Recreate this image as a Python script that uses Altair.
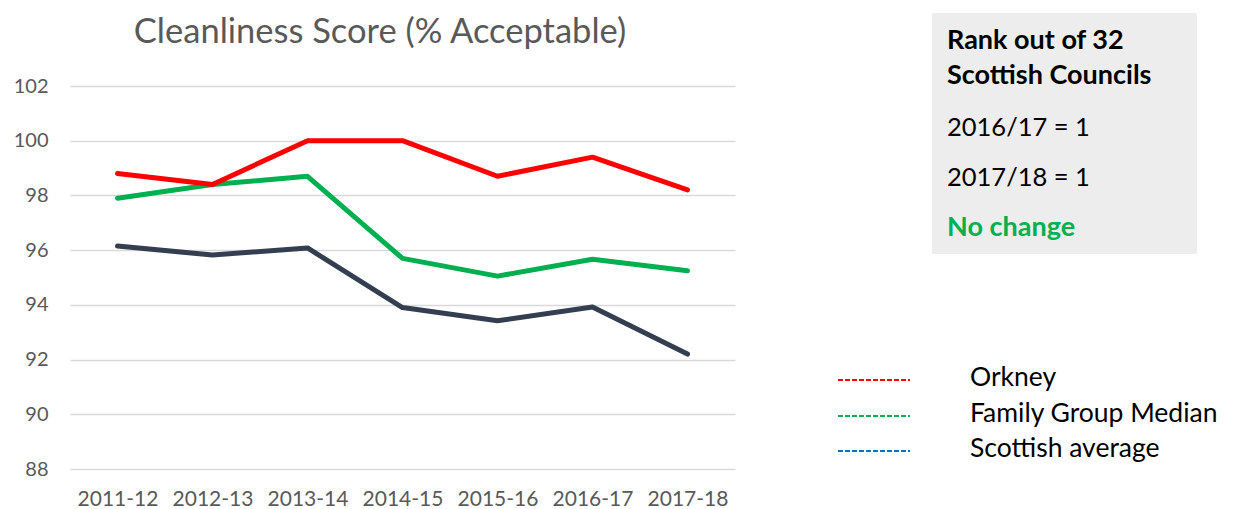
import altair as alt
import pandas as pd

years = ["2011-12", "2012-13", "2013-14", "2014-15", "2015-16", "2016-17", "2017-18"]
orkney = [98.8, 98.4, 100.0, 100.0, 98.7, 99.4, 98.2]
family_median = [97.9, 98.4, 98.7, 95.7, 95.05, 95.67, 95.25]
scottish_avg = [96.15, 95.82, 96.08, 93.9, 93.42, 93.92, 92.2]

series_names = ["Scottish average", "Family Group Median", "Orkney"]
series_colors = ["#333F50", "#00B050", "#FF0000"]

legend_labels = ["Orkney", "Family Group Median", "Scottish average"]
legend_colors = ["#FF0000", "#00B050", "#0070C0"]

box_lines = ["Rank out of 32", "Scottish Councils", "2016/17 = 1", "2017/18 = 1", "No change"]
box_bold = [True, True, False, False, True]
box_colors = ["#000000", "#000000", "#000000", "#000000", "#00B050"]

title_text = "Cleanliness Score (% Acceptable)"
y_ticks = [88, 90, 92, 94, 96, 98, 100, 102]

FONT = "Lato"

rows = []
for name, vals in zip(series_names, [scottish_avg, family_median, orkney]):
    for yr, v in zip(years, vals):
        rows.append({"year": yr, "value": v, "series": name, "order": series_names.index(name)})
df = pd.DataFrame(rows)

lines = alt.Chart(df).mark_line(strokeWidth=5, strokeCap="round", strokeJoin="round").encode(
    x=alt.X("year:O", sort=years, title=None,
            axis=alt.Axis(labelAngle=0, domain=False, ticks=False, labelFont=FONT,
                          labelFontSize=21, labelColor="#595959", labelPadding=19, grid=False)),
    y=alt.Y("value:Q", title=None,
            scale=alt.Scale(domain=[88, 102], nice=False, zero=False),
            axis=alt.Axis(values=y_ticks, domain=False, ticks=False, labelFont=FONT,
                          labelFontSize=20, labelColor="#595959", labelPadding=22,
                          grid=True, gridColor="#D9D9D9", gridWidth=1.3)),
    color=alt.Color("series:N", scale=alt.Scale(domain=series_names, range=series_colors), legend=None),
    detail="series:N",
    order="order:Q",
)

layers = [lines]

# title
layers.append(alt.Chart(pd.DataFrame({"t": [title_text]})).mark_text(
    font=FONT, fontSize=34.5, color="#595959", align="center", baseline="middle"
).encode(text="t:N", x=alt.value(310), y=alt.value(-53)))

# info box
layers.append(alt.Chart(pd.DataFrame({"a": [0]})).mark_rect(color="#EDEDED").encode(
    x=alt.value(862), x2=alt.value(1127), y=alt.value(-73), y2=alt.value(168)))
box_y = [-45, -10, 42, 92, 142]
for txt, b, c, yy in zip(box_lines, box_bold, box_colors, box_y):
    layers.append(alt.Chart(pd.DataFrame({"t": [txt]})).mark_text(
        font=FONT, fontSize=27 if b else 25.5, fontWeight="bold" if b else "normal", color=c,
        align="left", baseline="middle"
    ).encode(text="t:N", x=alt.value(877), y=alt.value(yy)))

# legend
leg_y = [294, 330, 365]
for lab, col, yy in zip(legend_labels, legend_colors, leg_y):
    layers.append(alt.Chart(pd.DataFrame({"a": [0]})).mark_rule(
        color=col, strokeWidth=2, strokeDash=[5, 2]
    ).encode(x=alt.value(768), x2=alt.value(840), y=alt.value(yy)))
    layers.append(alt.Chart(pd.DataFrame({"t": [lab]})).mark_text(
        font=FONT, fontSize=26.5, color="#000000", align="left", baseline="middle"
    ).encode(text="t:N", x=alt.value(900), y=alt.value(yy - 2)))

chart = alt.layer(*layers).properties(
    width=665, height=383,
    background="white",
    autosize=alt.AutoSizeParams(type="none"),
    padding={"left": 62, "top": 78, "right": 495, "bottom": 40},
).configure_view(strokeWidth=0, stroke=None)

chart.save("out.html", embed_options={"renderer": "svg", "actions": False})
